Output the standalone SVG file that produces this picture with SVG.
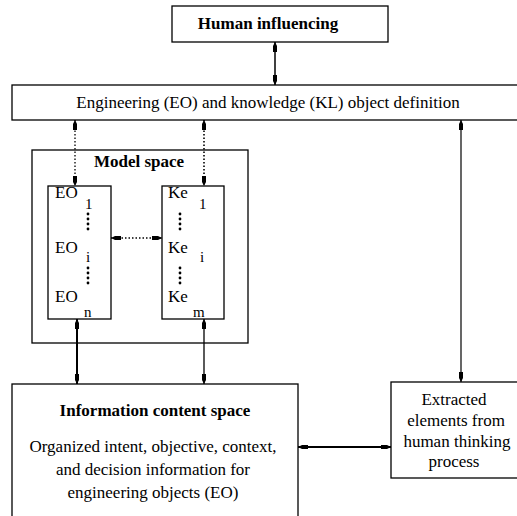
<svg xmlns="http://www.w3.org/2000/svg" width="517" height="516" viewBox="0 0 517 516" font-family="'Liberation Serif', 'DejaVu Serif', serif">
  <style>
    .box { fill: #fff; stroke: #000; stroke-width: 1.3; }
    text { font-family: "Liberation Serif", "DejaVu Serif", serif; font-size: 17px; fill: #000; }
    .b { font-weight: bold; font-size: 17px; }
    .c { text-anchor: middle; }
    .sub { font-size: 15px; }
    .wire { fill: none; stroke: #000; }
    .dot { stroke-dasharray: 1.5 2; }
  </style>
  <defs>
    <marker id="ah" viewBox="0 0 10 6" refX="10" refY="3" markerWidth="10" markerHeight="6" markerUnits="userSpaceOnUse" orient="auto-start-reverse">
      <path d="M0,1 L6,1 L10,3 L6,5 L0,5 Z" fill="#000"/>
    </marker>
    <g id="vdots">
      <circle cx="0" cy="0" r="1.4"/>
      <circle cx="0" cy="5" r="1.4"/>
      <circle cx="0" cy="10" r="1.4"/>
      <circle cx="0" cy="15" r="1.4"/>
    </g>
  </defs>
  <rect width="517" height="516" fill="#fff"/>

  <g id="human">
    <rect class="box" x="172" y="6" width="216" height="36"/>
    <text class="b c" x="268" y="29">Human influencing</text>
  </g>

  <g id="definition">
    <rect class="box" x="12" y="85" width="510" height="35"/>
    <text class="c" x="268" y="108">Engineering (EO) and knowledge (KL) object definition</text>
  </g>

  <g id="model-space">
    <rect class="box" x="32" y="150" width="216" height="193"/>
    <text class="b c" x="139" y="167">Model space</text>
  </g>

  <g id="eo-list">
    <rect class="box" x="48" y="186" width="63" height="133"/>
    <text x="55" y="198">EO</text>
    <text class="sub" x="85" y="209">1</text>
    <use href="#vdots" x="88" y="214"/>
    <text x="55" y="253">EO</text>
    <text class="sub" x="86" y="262">i</text>
    <use href="#vdots" x="88" y="268"/>
    <text x="55" y="302">EO</text>
    <text class="sub" x="84" y="317">n</text>
  </g>

  <g id="ke-list">
    <rect class="box" x="162" y="186" width="62" height="133"/>
    <text x="168" y="198">Ke</text>
    <text class="sub" x="199" y="209">1</text>
    <use href="#vdots" x="180" y="214"/>
    <text x="168" y="253">Ke</text>
    <text class="sub" x="200" y="262">i</text>
    <use href="#vdots" x="180" y="268"/>
    <text x="168" y="302">Ke</text>
    <text class="sub" x="193" y="317">m</text>
  </g>

  <g id="information">
    <rect class="box" x="12" y="384" width="286" height="140"/>
    <text class="b c" x="155" y="416">Information content space</text>
    <text class="c" x="153" y="452">Organized intent, objective, context,</text>
    <text class="c" x="153" y="475">and decision information for</text>
    <text class="c" x="153" y="498">engineering objects (EO)</text>
  </g>

  <g id="extracted">
    <rect class="box" x="391" y="382" width="130" height="96"/>
    <text class="c" x="454" y="405">Extracted</text>
    <text class="c" x="456" y="426">elements from</text>
    <text class="c" x="457" y="447">human thinking</text>
    <text class="c" x="454" y="467">process</text>
  </g>

  <g id="connectors">
    <line class="wire" x1="275" y1="42" x2="275" y2="85" stroke-width="1.5" marker-start="url(#ah)" marker-end="url(#ah)"/>
    <line class="wire dot" x1="75" y1="120" x2="75" y2="186" stroke-width="1.3" marker-start="url(#ah)" marker-end="url(#ah)"/>
    <line class="wire dot" x1="204" y1="120" x2="204" y2="186" stroke-width="1.6" marker-start="url(#ah)" marker-end="url(#ah)"/>
    <line class="wire dot" x1="111" y1="238" x2="162" y2="238" stroke-width="1.3" marker-start="url(#ah)" marker-end="url(#ah)"/>
    <line class="wire" x1="77" y1="319" x2="77" y2="384" stroke-width="2" marker-start="url(#ah)" marker-end="url(#ah)"/>
    <line class="wire" x1="204" y1="319" x2="204" y2="384" stroke-width="1.3" marker-start="url(#ah)" marker-end="url(#ah)"/>
    <line class="wire" x1="461" y1="120" x2="461" y2="382" stroke-width="1.2" marker-start="url(#ah)" marker-end="url(#ah)"/>
    <line class="wire" x1="298" y1="447" x2="391" y2="447" stroke-width="2" marker-start="url(#ah)" marker-end="url(#ah)"/>
  </g>
</svg>
